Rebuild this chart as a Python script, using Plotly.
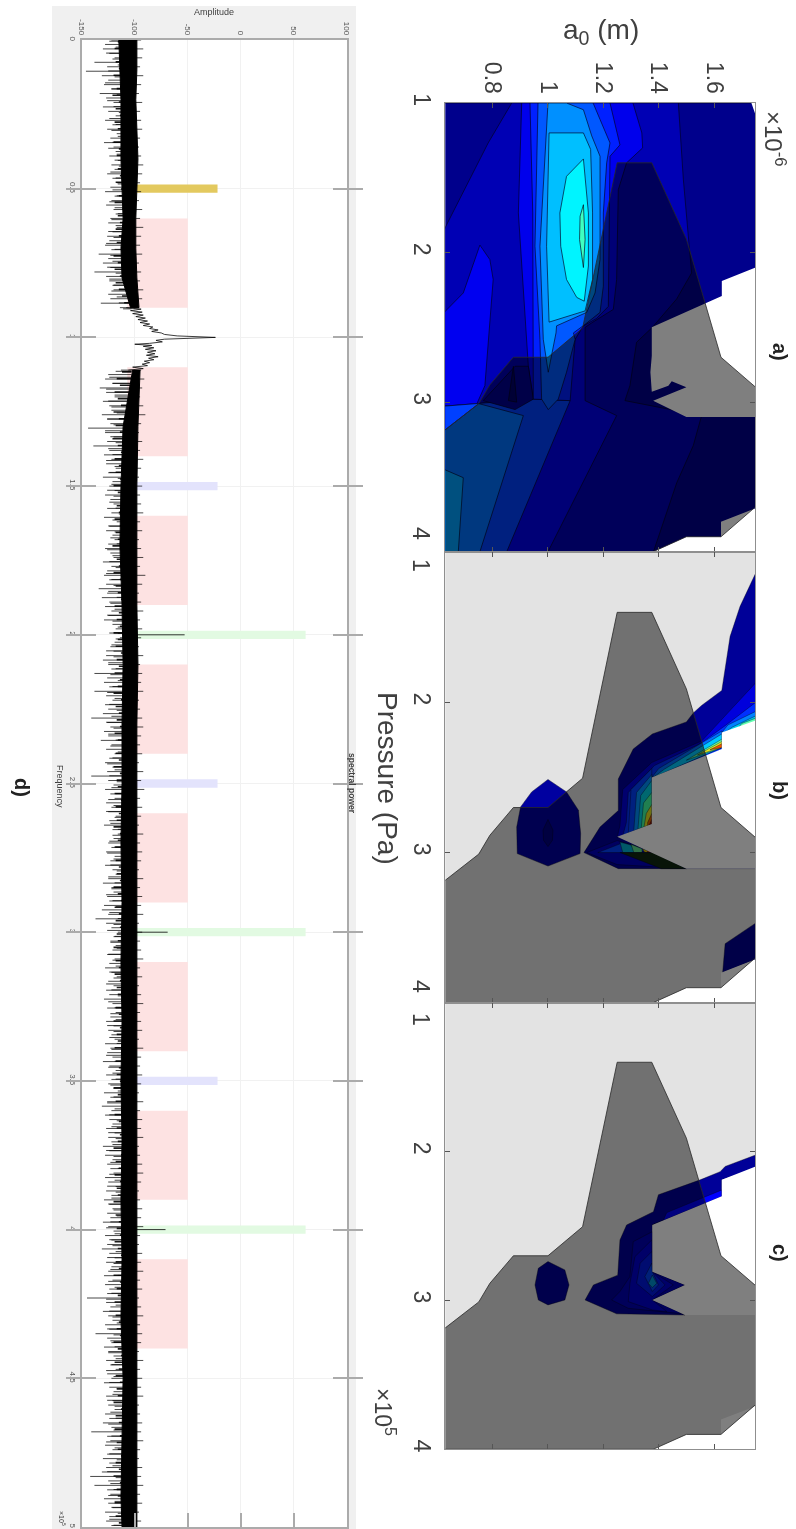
import numpy as np
import plotly.graph_objects as go

W, H = 796, 1529
FONT = "Liberation Sans"

# ---------- panel d data: spectral power ----------
amp_ticks = [-150, -100, -50, 0, 50, 100]
amp_labels = ["-150", "-100", "-50", "0", "50", "100"]
freq_ticks = [0, 0.5, 1, 1.5, 2, 2.5, 3, 3.5, 4, 4.5, 5]
freq_labels = ["0", "0.5", "1", "1.5", "2", "2.5", "3", "3.5", "4", "4.5", "5"]

pink_center = [0.75, 1.25, 1.75, 2.25, 2.75, 3.25, 3.75, 4.25]
yellow_center = [0.5]
blue_center = [1.5, 2.5, 3.5]
green_center = [2, 3, 4]

lo_a = [-122,-128,-130,-124,-119,-138,-126,-146,-131,-125,
        -129,-122,-133,-127,-120,-130,-125,-118,-128,-121,
        -126,-117,-123,-129,-120,-118,-124,-116,-122,-119,
        -126,-121,-117,-123,-128,-119,-122,-127,-120,-118,
        -123,-125,-117,-121,-126,-124,-128,-122,-134,-125,
        -130,-123,-138,-127,-124,-121,-120,-125,-123,-132,-114]
hi_a = [-94,-92,-93,-95,-92,-94,-96,-93,-95,-94,-93,-95,-96,-94,-92,-93,
        -95,-94,-96,-93,-95,-92,-94,-95,-93,-96,-94,-95,-92,-93,-96]
lo_b = [-113,-125,-128,-121,-133,-127,-119,-130,-124,-122,
        -131,-126,-123,-144,-128,-120,-126,-139,-124,-129,
        -122,-127,-118,-125,-130,-121,-124,-119,-128,-123,
        -120,-126,-122,-129,-117,-124,-127,-121,-119,-125,
        -128,-123,-120,-130,-122,-126,-129,-124,-127,-134,
        -126,-131,-124,-128,-122,-125,-129,-121,-118,-116,
        -114,-119,-123,-120,-127,-130,-125,-122,-138,-126,
        -129,-124,-138,-127,-121,-128,-125,-130,-141,-126,
        -123,-129,-125,-132,-122,-127,-119,-124,-128,-121,
        -126,-141,-125,-120,-128,-123,-119,-127,-122,-125,
        -118,-124,-129,-121,-116,-120,-125,-122,-127,-119,
        -123,-128,-121,-118,-125,-130,-122,-120,-126,-124,
        -129,-131,-125,-137,-127,-122,-116,-120,-123,-118,
        -121,-126,-119,-124,-128,-122,-117,-125,-120,-127,
        -124,-129,-121,-126,-118,-123,-127,-120,-125,-122,
        -119,-128,-123,-126,-121,-130,-124,-118,-127,-122,
        -125,-120,-129,-123,-126,-131,-122,-128,-124,-121,
        -127,-119,-125,-122,-130,-124,-128,-121,-126,-123,
        -120,-128,-125,-118,-127,-122,-129,-124,-121,-126,
        -123,-130,-125,-120,-128,-122,-126,-131,-124,-119,
        -127,-122,-125,-129,-121,-128,-124,-126,-145,-127,
        -123,-130,-125,-121,-128,-124,-137,-126,-122,-129,
        -125,-120,-127,-123,-118,-126,-122,-129,-124,-120,
        -127,-121,-125,-119,-128,-124,-130,-122,-141,-126,
        -123,-128,-121,-126,-130,-124,-127,-131,-142,-125,
        -138,-126,-123,-129,-125,-121,-128,-124,-127,-122]
hi_b = [-94,-91,-93,-95,-92,-90,-94,-96,-93,-95,-92,-94,-96,-93,-95,-94,-92,-95,-93,-96,
        -94,-92,-95,-90,-93,-96,-94,-92,-95,-93,-94,-96,-92,-95,-93,-94,-92,-96,-95,-93,
        -92,-94,-95,-93,-96,-92,-94,-91,-95,-93,-94,-96,-92,-95,-93,-94,-96,-92,-95,-93,
        -94,-92,-96,-93,-95,-94,-92,-95,-93,-96,-94,-92,-95,-94,-93,-96,-92,-94,-95,-93,
        -94,-96,-92,-95,-93,-94,-92,-96,-95,-93,-92,-94,-96,-95,-93,-94,-92,-95,-96,-93,
        -94,-92,-95,-93,-96,-94,-92,-95,-93,-94,-96,-92,-95,-93,-94,-92,-96,-95,-93,-94,
        -92,-95,-96,-93,-94,-92,-95,-93,-96,-94]
mid_a = [-116,-119,-114,-118,-115,-120,-113,-117,-121,-115,-118,-114,-119,-116,-113,-120,-115,-117,-112,-116,
         -114,-118,-113,-115,-119,-112,-116,-114,-118,-115,-117,-113,-120,-116,-119,-114,-118,-115,-112,-110]
mid_b = [-112,-117,-114,-119,-116,-113,-120,-115,-118,-114,-121,-116,-113,-119,-115,-118,-114,-120,-116,-113,
         -117,-115,-119,-114,-118,-116,-121,-113,-117,-115,-120,-114,-118,-116,-113,-119,-115,-117,-114,-120,
         -116,-118,-113,-117,-115,-119,-114,-116,-120,-113,-118,-115,-117,-114,-119,-116,-112,-118,-115,-120,
         -114,-117,-116,-119,-113,-118,-115,-117,-120,-114,-116,-119,-113,-118,-115,-117,-114,-120,-116,-113,
         -119,-115,-118,-114,-117,-116,-120,-113,-118,-115,-119,-114,-117,-116,-113,-118,-115,-120,-114,-117,
         -116,-119,-113,-118,-115,-117,-114,-120,-116,-118,-113,-119,-115,-117,-114,-116,-120,-113,-118,-115,
         -119,-114,-117,-116,-120,-113,-118,-115,-117,-114,-119,-116,-113,-118,-115,-120,-114,-117,-116,-119,
         -113,-118,-115,-117,-114,-120,-116,-113,-119,-115,-118,-114,-117,-116,-120,-113,-118,-115,-119,-114,
         -117,-116,-113,-118,-115,-120,-114,-117,-116,-119,-113,-118,-115]
fringe_a = [-124,-118,-127,-121,-116,-125,-119,-128,-122,-117,-126,-120,-115,-124,-118,-122,-116,-121,-125,-117,
            -119,-115,-123,-118,-116,-121,-117,-124,-119,-116,-122,-118,-125,-120,-127,-119,-123,-121,-126,-118,
            -124,-120,-122,-117,-115,-111]
fringe_b = [-118,-124,-121,-127,-119,-125,-122,-117,-126,-120,-128,-123,-118,-125,-121,-127,-119,-124,-116,-122,
            -126,-120,-124,-118,-115,-121,-125,-119,-123,-117,-126,-121,-124,-118,-127,-122,-120,-125,-117,-123,
            -119,-126,-121,-116,-124,-118,-122,-127,-120,-125,-118,-123,-116,-121,-126,-119,-124,-117,-122,-127,
            -120,-125,-118,-123,-116,-121,-126,-119,-124,-117,-122,-118,-125,-120,-127,-119,-123,-116,-121,-124,
            -118,-126,-120,-123,-117,-125,-119,-122,-127,-121,-118,-124,-116,-120,-126,-119,-123,-117,-125,-121,
            -118,-124,-120,-127,-122,-116,-125,-119,-123,-118,-126,-120,-124,-117,-122,-127,-119,-125,-121,-118,
            -123,-116,-120,-126,-119,-124,-117,-122,-125,-118,-121,-127,-120,-123,-116,-124,-119,-126,-118,-122,
            -125,-120,-117,-123,-127,-119,-124,-121,-118,-126,-120,-123,-116,-125,-119,-122,-127,-118,-124,-121,
            -117,-126,-120,-123,-119,-125,-118,-122,-127,-120,-124,-117,-121,-126,-119,-123,-118,-125,-120,-122,
            -127,-119,-124,-117,-121,-126,-118,-123,-120,-125,-119,-122,-116,-124,-120]
core_a_f = [0, 0.1, 0.2, 0.3, 0.4, 0.5, 0.6, 0.7, 0.8, 0.9]
core_a_lo = [-115, -114, -113, -113, -113, -112, -111, -113, -112, -104]
core_a_hi = [-98, -98, -99, -98, -97, -98, -99, -99, -98, -96]
core_b_f = [1.11, 1.3, 1.5, 1.7, 1.9, 2.1, 2.3, 2.5, 2.7, 2.9, 3.1, 3.3, 3.5, 3.7, 3.9, 4.1, 4.3, 4.5, 4.7, 4.9, 5]
core_b_lo = [-102, -111, -113, -114, -112, -111, -112, -112, -113, -112, -113, -112, -113, -112, -113, -112, -113, -111, -112, -113, -112]
core_b_hi = [-95, -97, -98, -98, -98, -97, -98, -98, -98, -98, -98, -98, -98, -98, -98, -98, -98, -98, -98, -98, -98]
wiggle_f = [.900,.905,.91,.915,.92,.925,.93,.935,.94,.945,.95,.955,.96,.965,.97,.975,.98,.985,.99,.995,1.0,
            1.003,1.006,1.01,1.015,1.02,1.023,1.027,1.03,1.035,1.04,1.045,1.05,1.055,1.06,1.065,1.07,1.075,1.08,1.085,1.09,1.095,1.10,1.105,1.11]
wiggle_a = [-108,-94,-104,-93,-102,-92,-99,-90,-97,-88,-95,-86,-92,-83,-86,-78,-84,-75,-72,-60,-24,
            -62,-72,-80,-74,-86,-100,-84,-92,-82,-90,-80,-88,-81,-89,-78,-87,-82,-91,-86,-93,-88,-102,-92,-106]
peak_freq = [2, 3, 4]
peak_amp = [-53, -69, -71]

# ---------- panels a, b, c axes ----------
a0_ticks = [0.8, 1, 1.2, 1.4, 1.6]
a0_labels = ["0.8", "1", "1.2", "1.4", "1.6"]
p_ticks = [1, 2, 3, 4]

# region shared by all three panels (a0 in micrometres, pressure in 1e5 Pa)
SHADE = [(.625,3.19),(.75,3.01),(.79,2.885),(.875,2.70),(1.0,2.70),(1.125,2.505),(1.25,1.40),(1.375,1.40),
         (1.5,1.91),(1.625,2.70),(1.75,2.90),(1.75,3.70),(1.625,3.90),(1.5,3.90),(1.38,4.0),(.625,4.0)]
BLANK_BOTTOM = [(1.75,3.71),(1.625,3.80),(1.625,3.90),(1.5,3.90),(1.38,4.0),(1.75,4.0)]

# panel a contour bands
A_BASE = [(.625,1),(1.75,1),(1.75,4),(.625,4)]
A_Z1 = [(.869,1),(.784,1.267),(.625,1.846),(.625,4),(1.381,4),(1.465,3.54),(1.525,3.29),(1.555,3.09),(1.278,2.99),
        (1.296,2.89),(1.32,2.60),(1.377,2.50),(1.465,2.31),(1.519,2.136),(1.507,1.89),(1.489,1.51),(1.471,1)]
A_Z2 = [(.905,1),(1.307,1),(1.339,1.2),(1.342,1.30),(1.284,1.40),(1.254,1.58),(1.248,2.18),(1.236,2.38),(1.158,2.47),
        (1.134,2.50),(1.134,2.99),(1.248,3.09),(1.0,4),(.625,4),(.625,3.027),(.947,2.98),(.929,2.76),(.893,1.735)]
A_ISLAND = [(.625,2.40),(.694,2.27),(.754,1.95),(.79,2.047),(.802,2.18),(.772,2.89),(.742,3.015),(.625,3.027)]
A_C = [(1.08,2.99),(.851,4),(.625,4),(.625,3.027),(.947,2.98)]
A_D = [(.75,3.01),(.911,3.09),(.754,4),(.625,4),(.625,3.19)]
A_E = [(.625,3.45),(.694,3.505),(.676,4),(.625,4)]
A_DIP1 = [(.766,2.99),(.881,2.76),(.929,2.76),(.947,2.98),(.881,3.05)]
A_DIP2 = [(.875,2.76),(.857,2.99),(.887,3.0)]
A_P3 = [(.935,1),(1.224,1),(1.26,1.28),(1.224,1.356),(1.218,2.36),(1.176,2.44),(1.128,2.49),(1.098,2.58),(1.08,2.99),(.947,2.98),(.945,1.735)]
A_P4 = [(.964,1),(1.163,1),(1.188,1.11),(1.224,1.267),(1.212,1.40),(1.2,1.735),(1.2,2.225),(1.188,2.40),(1.134,2.48),(1.092,2.537),
        (1.098,2.58),(1.067,2.80),(1.037,2.98),(1.001,3.05),(.977,2.98),(.971,2.58),(.953,1.958)]
A_P5 = [(1.0,1),(1.067,1),(1.128,1.045),(1.158,1.22),(1.188,1.356),(1.188,2.047),(1.17,2.27),(1.14,2.40),(1.031,2.49),(1.029,2.537),(1.001,2.80),(.983,2.58),(.971,1.958)]
A_P6 = [(1.004,1.20),(1.128,1.2),(1.154,1.31),(1.161,1.735),(1.161,2.18),(1.134,2.39),(1.004,2.465),(.995,1.958)]
A_P7 = [(1.128,1.374),(1.067,1.49),(1.043,1.735),(1.046,1.958),(1.067,2.18),(1.104,2.30),(1.131,2.325),(1.146,2.09),(1.146,1.735)]
A_P8 = [(1.128,1.68),(1.116,1.757),(1.114,1.913),(1.128,2.10),(1.134,1.913),(1.131,1.78)]
A_BLANK_TOP = [(1.75,2.10),(1.628,2.19),(1.628,2.29),(1.375,2.50),(1.375,2.69),(1.37,2.80),(1.375,2.93),(1.435,2.89),(1.447,2.86),
               (1.50,2.90),(1.38,2.99),(1.50,3.10),(1.75,3.10)]
A_BLANK_CORNER = [(1.735,1),(1.75,1),(1.75,1.08)]

# panel b contour bands
B_MAIN = [(1.75,1.14),(1.694,1.36),(1.658,1.56),(1.628,1.92),(1.555,2.02),(1.525,2.07),(1.50,2.13),(1.377,2.21),(1.308,2.31),
          (1.254,2.51),(1.254,2.72),(1.188,2.83),(1.13,3.0),(1.254,3.107),(1.75,3.107)]
B_L1 = [(1.75,1.87),(1.635,2.10),(1.556,2.256),(1.375,2.40),(1.27,2.58),(1.26,2.82),(1.25,2.90),(1.75,2.90)]
B_L2 = [(1.75,2.00),(1.64,2.155),(1.55,2.275),(1.385,2.42),(1.29,2.60),(1.283,2.80),(1.27,2.89),(1.75,2.89)]
B_R3 = [(1.75,2.06),(1.65,2.15),(1.628,2.20),(1.75,2.20)]
B_R4 = [(1.75,2.09),(1.665,2.165),(1.64,2.20),(1.75,2.20)]
B_R5 = [(1.75,2.105),(1.70,2.14),(1.69,2.165),(1.75,2.13)]
B_M3 = [(1.628,2.19),(1.40,2.44),(1.375,2.50),(1.628,2.30)]
B_M4 = [(1.628,2.21),(1.42,2.445),(1.38,2.50),(1.628,2.30)]
B_M5 = [(1.628,2.245),(1.50,2.385),(1.628,2.30)]
B_M6 = [(1.628,2.26),(1.54,2.35),(1.628,2.30)]
B_M7 = [(1.628,2.275),(1.585,2.315),(1.628,2.30)]
B_B1 = [(1.375,2.44),(1.30,2.58),(1.29,2.87),(1.375,2.81)]
B_B2 = [(1.375,2.48),(1.32,2.60),(1.31,2.855),(1.375,2.81)]
B_B3 = [(1.375,2.52),(1.335,2.62),(1.325,2.844),(1.375,2.81)]
B_B4 = [(1.375,2.60),(1.345,2.67),(1.337,2.836),(1.375,2.81)]
B_B5 = [(1.375,2.68),(1.355,2.74),(1.347,2.829),(1.375,2.81)]
B_B6 = [(1.375,2.74),(1.36,2.80),(1.36,2.82),(1.375,2.81)]
B_B7 = [(1.375,2.78),(1.365,2.81),(1.366,2.816),(1.375,2.81)]
B_T1 = [(1.14,3.0),(1.25,2.92),(1.375,2.99),(1.5,3.107),(1.25,3.08)]
B_T2 = [(1.18,3.0),(1.27,2.935),(1.375,2.99),(1.27,3.0)]
B_T3 = [(1.26,2.93),(1.30,2.95),(1.32,3.0),(1.27,3.0)]
B_T4 = [(1.30,2.945),(1.34,2.975),(1.34,3.0),(1.31,3.0)]
B_T5 = [(1.34,2.975),(1.375,2.995),(1.35,3.0)]
B_T6 = [(1.36,2.985),(1.385,3.0),(1.36,3.0)]
B_TD = [(1.26,3.0),(1.38,3.0),(1.5,3.107),(1.41,3.107)]
B_OVAL = [(1.0,2.513),(1.067,2.596),(1.11,2.718),(1.118,2.873),(1.116,3.007),(1.0,3.09),(.889,3.007),(.887,2.83),(.901,2.696),(.941,2.596)]
B_OVAL_IN = [(1.0,2.78),(1.018,2.85),(1.016,2.918),(1.0,2.96),(.984,2.918),(.982,2.85)]
B_LOW = [(1.75,3.47),(1.64,3.607),(1.631,3.80),(1.75,3.713)]
B_BLANK_TOP = [(1.75,2.12),(1.628,2.20),(1.628,2.31),(1.375,2.50),(1.375,2.81),(1.25,2.895),(1.5,3.107),(1.75,3.107)]

# panel c contour bands
C_MAIN = [(1.75,2.023),(1.64,2.10),(1.622,2.135),(1.55,2.19),(1.399,2.29),(1.381,2.404),(1.284,2.493),(1.26,2.594),(1.252,2.83),
          (1.164,2.896),(1.134,2.997),(1.248,3.09),(1.495,3.098),(1.377,2.997),(1.495,2.896),(1.377,2.807),(1.377,2.493),(1.628,2.303),(1.628,2.19),(1.75,2.113)]
C_BAND = [(1.377,2.493),(1.417,2.46),(1.429,2.41),(1.628,2.258),(1.628,2.303)]
C_L1 = [(1.377,2.538),(1.308,2.605),(1.296,2.84),(1.26,2.94),(1.23,2.997),(1.29,3.053),(1.489,3.09),(1.377,2.997),(1.495,2.896),(1.377,2.807)]
C_L2 = [(1.375,2.594),(1.314,2.706),(1.296,2.885),(1.29,3.008),(1.377,3.064),(1.429,3.075),(1.377,2.997),(1.453,2.896),(1.377,2.807)]
C_L3 = [(1.375,2.672),(1.333,2.75),(1.32,2.885),(1.377,2.974),(1.423,2.896),(1.377,2.807)]
C_L4 = [(1.375,2.75),(1.35,2.84),(1.377,2.94),(1.399,2.896),(1.377,2.807)]
C_TIP = [(1.377,2.83),(1.363,2.885),(1.377,2.914),(1.393,2.885)]
C_OVAL = [(1.0,2.739),(1.061,2.795),(1.076,2.896),(1.061,2.997),(1.0,3.03),(.965,2.997),(.953,2.896),(.965,2.784)]
C_BLANK_TOP = [(1.75,2.10),(1.628,2.19),(1.628,2.30),(1.377,2.493),(1.377,2.807),(1.495,2.896),(1.377,2.997),(1.495,3.098),(1.75,3.098)]

# ---------- helpers ----------
def X(p): return p / W
def Y(p): return 1 - p / H

fig = go.Figure()
EDGE = "rgba(0,0,30,0.65)"

def poly(ax, pts, fill, line=EDGE, lw=1.0):
    xs = [p[0] for p in pts] + [pts[0][0]]
    ys = [p[1] for p in pts] + [pts[0][1]]
    fig.add_trace(go.Scatter(x=xs, y=ys, xaxis="x" + ax, yaxis="y" + ax, mode="lines", fill="toself",
                             fillcolor=fill, line=dict(color=line, width=lw), hoverinfo="skip", showlegend=False))

# panel a
for pts, col in [(A_BASE,"#00008c"),(A_Z1,"#0000b4"),(A_ISLAND,"#0000f0"),(A_Z2,"#0000ec"),(A_C,"#0040ff"),(A_D,"#0070ff"),
                 (A_E,"#00a0ff"),(A_DIP1,"#000090"),(A_DIP2,"#00006a"),(A_P3,"#0020ff"),(A_P4,"#0058ff"),(A_P5,"#0090ff"),
                 (A_P6,"#00bfff"),(A_P7,"#00f4ff"),(A_P8,"#40ffc0")]:
    poly("2", pts, col)
for pts in (A_BLANK_TOP, BLANK_BOTTOM, A_BLANK_CORNER):
    poly("2", pts, "#ffffff", "rgba(0,0,0,0)", 0)
poly("2", SHADE, "rgba(0,0,0,0.5)", "rgba(40,40,40,0.8)", 1)

# panel b
for pts, col in [(B_MAIN,"#000098"),(B_L1,"#0000dc"),(B_L2,"#0030ff"),(B_R3,"#0080ff"),(B_R4,"#00d0f0"),(B_R5,"#60ffb0"),
                 (B_M3,"#0070ff"),(B_M4,"#00c8ff"),(B_M5,"#60ffa0"),(B_M6,"#e8e820"),(B_M7,"#f05000"),
                 (B_B1,"#0040ff"),(B_B2,"#0090ff"),(B_B3,"#00d0e0"),(B_B4,"#40ffa0"),(B_B5,"#e0e020"),(B_B6,"#e06000"),(B_B7,"#a01000"),
                 (B_T1,"#0000c0"),(B_T2,"#0040ff"),(B_T3,"#00b0d0"),(B_T4,"#60e090"),(B_T5,"#e0c000"),(B_T6,"#c02000"),(B_TD,"#102810"),
                 (B_OVAL,"#0000a0"),(B_OVAL_IN,"#000080"),(B_LOW,"#000090")]:
    poly("3", pts, col, "rgba(0,0,20,0.55)", 0.7)
for pts in (B_BLANK_TOP, BLANK_BOTTOM):
    poly("3", pts, "#ffffff", "rgba(0,0,0,0)", 0)
poly("3", SHADE, "rgba(0,0,0,0.5)", "rgba(40,40,40,0.8)", 1)

# panel c
for pts, col in [(C_MAIN,"#000098"),(C_BAND,"#0000ff"),(C_L1,"#0000b4"),(C_L2,"#0000d0"),(C_L3,"#0018e0"),(C_L4,"#0040f0"),(C_TIP,"#0090d0"),(C_OVAL,"#000098")]:
    poly("4", pts, col, "rgba(0,0,20,0.55)", 0.7)
for pts in (C_BLANK_TOP, BLANK_BOTTOM):
    poly("4", pts, "#ffffff", "rgba(0,0,0,0)", 0)
poly("4", SHADE, "rgba(0,0,0,0.5)", "rgba(40,40,40,0.8)", 1)

# panel d bars
def bars(centers, thick, start, end, col):
    fig.add_trace(go.Bar(y=centers, x=[end - start] * len(centers), base=[start] * len(centers), width=thick, orientation="h",
                         marker=dict(color=col, line=dict(width=0)), xaxis="x", yaxis="y", hoverinfo="skip", showlegend=False))
bars(pink_center, 0.30, -107, -50, "#fde2e2")
bars(yellow_center, 0.028, -98, -22, "#e3c95f")
bars(blue_center, 0.028, -98, -22, "#e3e3fc")
bars(green_center, 0.028, -98, 61, "#e2fae2")

# panel d noise: each value is one thin horizontal spike out of the core
def spikes(vals, start, step, width=0.8, alpha=0.75):
    a, f = [], []
    for i, v in enumerate(vals):
        y = start + i * step
        a += [-103, v, None]
        f += [y, y, None]
    fig.add_trace(go.Scatter(x=a, y=f, xaxis="x", yaxis="y", mode="lines", line=dict(color=f"rgba(0,0,0,{alpha})", width=width),
                             hoverinfo="skip", showlegend=False))
spikes(lo_a, 0.0, 0.015, 0.9, 0.8)
spikes(fringe_a, 0.004, 0.02, 1.0, 0.75)
spikes(hi_a, 0.0, 0.03, 1.0, 0.7)
spikes(mid_a, 0.006, 0.0225, 1.6, 0.9)
spikes(lo_b, 1.11, 0.015, 0.9, 0.8)
spikes(fringe_b, 1.114, 0.02, 1.0, 0.75)
spikes(hi_b, 1.11, 0.03, 1.0, 0.7)
spikes(mid_b, 1.116, 0.0225, 1.6, 0.9)
for f_, l_, h_ in [(core_a_f, core_a_lo, core_a_hi), (core_b_f, core_b_lo, core_b_hi)]:
    fig.add_trace(go.Scatter(x=list(l_) + list(h_)[::-1], y=list(f_) + list(f_)[::-1], xaxis="x", yaxis="y", mode="lines", fill="toself",
                             fillcolor="#000000", line=dict(color="#000000", width=1), hoverinfo="skip", showlegend=False))
fig.add_trace(go.Scatter(x=wiggle_a, y=wiggle_f, xaxis="x", yaxis="y", mode="lines", line=dict(color="rgba(0,0,0,0.85)", width=0.9),
                         hoverinfo="skip", showlegend=False))
pk_x, pk_y = [], []
for f_, a_ in zip(peak_freq, peak_amp):
    pk_x += [-100, a_, None]
    pk_y += [f_, f_, None]
fig.add_trace(go.Scatter(x=pk_x, y=pk_y, xaxis="x", yaxis="y", mode="lines", line=dict(color="rgba(0,0,0,0.8)", width=1),
                         hoverinfo="skip", showlegend=False))
# carrier for the lower tick axis of panel d
fig.add_trace(go.Scatter(x=[-150, 100], y=[None, None], xaxis="x5", yaxis="y", mode="lines", hoverinfo="skip", showlegend=False))

# ---------- layout ----------
XRANGE = [0.629, 1.749]
def xax_panel(labels):
    return dict(domain=[X(445.3), X(755.3)], range=XRANGE, side="top", tickmode="array", tickvals=a0_ticks,
                ticktext=a0_labels, showticklabels=labels, tickangle=90, ticks="inside", ticklen=5, tickcolor="#555555", tickwidth=1,
                showline=True, linecolor="#8f8f8f", linewidth=1.2, mirror="allticks", showgrid=False, zeroline=False,
                tickfont=dict(family=FONT, size=23, color="#404040"), ticklabelstandoff=0)
def yax_panel(top, bottom, labels):
    return dict(domain=[Y(bottom), Y(top)], range=[4, 1], tickmode="array", tickvals=p_ticks, ticktext=labels,
                tickangle=90, ticks="inside", ticklen=5, tickcolor="#555555", tickwidth=1, showline=True, linecolor="#8f8f8f",
                linewidth=1.2, mirror="allticks", showgrid=False, zeroline=False, tickfont=dict(family=FONT, size=23, color="#404040"),
                ticklabelstandoff=3)

def xa(px, py, text, size, angle=90, bold=False, color="#404040"):
    return dict(x=X(px), y=Y(py), xref="paper", yref="paper", text=f"<b>{text}</b>" if bold else text, showarrow=False, textangle=angle,
                xanchor="center", yanchor="middle", font=dict(family=FONT, size=size, color=color))

def rect(x0, y0, x1, y1, col):
    return dict(type="rect", xref="paper", yref="paper", x0=X(x0), x1=X(x1), y0=Y(y1), y1=Y(y0), fillcolor=col, line=dict(width=0), layer="below")

fig.update_layout(
    width=W, height=H, margin=dict(l=0, r=0, t=0, b=0, pad=0, autoexpand=False), paper_bgcolor="#ffffff", plot_bgcolor="rgba(0,0,0,0)",
    barmode="overlay", showlegend=False, hovermode=False,
    xaxis=dict(domain=[X(81.7), X(347)], range=[-150, 100], side="top", tickmode="array", tickvals=amp_ticks, ticktext=amp_labels, tickangle=90,
               ticks="", showline=True, linecolor="#ababab", linewidth=2, mirror=True, showgrid=True, gridcolor="#f1f1f1", gridwidth=1,
               zeroline=False, tickfont=dict(family=FONT, size=8, color="#555555"), ticklabelstandoff=0),
    yaxis=dict(domain=[Y(1527), Y(40)], range=[5, 0], tickmode="array", tickvals=freq_ticks, ticktext=freq_labels, tickangle=90,
               ticks="inside", ticklen=14, tickcolor="#ababab", tickwidth=1.5, showline=True, linecolor="#ababab", linewidth=2, mirror="allticks",
               showgrid=True, gridcolor="#f1f1f1", gridwidth=1, zeroline=False, tickfont=dict(family=FONT, size=8, color="#555555"), ticklabelstandoff=0),
    xaxis5=dict(domain=[X(81.7), X(347)], range=[-150, 100], overlaying="x", anchor="y", side="bottom", tickmode="array",
                tickvals=amp_ticks, ticks="inside", ticklen=14, tickcolor="#ababab", tickwidth=1.5, showticklabels=False, showgrid=False, zeroline=False),
    xaxis2=dict(xax_panel(True), anchor="y2"), yaxis2=dict(yax_panel(103, 551.7, ["1", "2", "3", " "]), anchor="x2"),
    xaxis3=dict(xax_panel(False), anchor="y3"), yaxis3=dict(yax_panel(552.3, 1002.7, [" ", "2", "3", " "]), anchor="x3"),
    xaxis4=dict(xax_panel(False), anchor="y4"), yaxis4=dict(yax_panel(1002.7, 1449.3, [" ", "2", "3", "4"]), anchor="x4"),
    shapes=[rect(52, 6, 356, 1529, "#f0f0f0"), rect(81.7, 40, 347, 1527, "#ffffff"),
            rect(445.3, 552.3, 755.3, 1002.7, "#e3e3e3"), rect(445.3, 1002.7, 755.3, 1449.3, "#e3e3e3")],
    annotations=[
        xa(601, 31, "a<sub>0</sub> (m)", 28, 0),
        xa(388, 778, "Pressure (Pa)", 28),
        xa(775, 139, "×10<sup>-6</sup>", 24),
        xa(385, 1412, "×10<sup>5</sup>", 23),
        xa(421, 533, "4", 23),
        xa(421, 565, "1", 23),
        xa(421, 986, "4", 23),
        xa(421, 1019, "1", 23),
        xa(780, 352, "a)", 20, 90, True, "#222222"),
        xa(780, 790, "b)", 20, 90, True, "#222222"),
        xa(780, 1253, "c)", 20, 90, True, "#222222"),
        xa(22, 787, "d)", 20, 90, True, "#222222"),
        xa(214, 12, "Amplitude", 9, 0),
        xa(352, 783, "spectral power", 8.5, 90, True),
        xa(60, 787, "Frequency", 9),
        xa(62, 1518, "×10<sup>5</sup>", 7),
    ],
)

fig.write_html("out.html", config={"displayModeBar": False},
               post_script="document.body.style.margin='0';document.documentElement.style.overflow='hidden';"
                           "document.querySelector('.js-plotly-plot').style.filter='blur(0.5px)';")
